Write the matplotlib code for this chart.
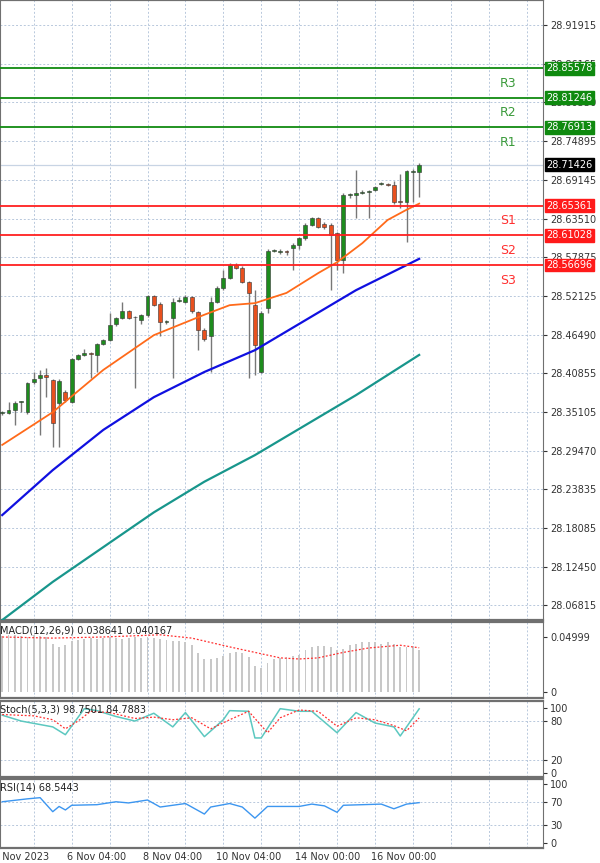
import numpy as np
import matplotlib
matplotlib.use("Agg")
import matplotlib.pyplot as plt
import matplotlib.transforms as mtransforms

# candles (price units)
opens = [28.350, 28.350, 28.354, 28.366, 28.351, 28.395, 28.401, 28.406, 28.398, 28.365,
         28.381, 28.366, 28.429, 28.435, 28.438, 28.435, 28.451, 28.457, 28.480, 28.489,
         28.499, 28.490, 28.486, 28.493, 28.521, 28.510, 28.484, 28.489, 28.514, 28.513,
         28.520, 28.498, 28.472, 28.463, 28.513, 28.533, 28.548, 28.567, 28.563, 28.542,
         28.508, 28.410, 28.504, 28.588, 28.586, 28.587, 28.592, 28.596, 28.606, 28.626,
         28.636, 28.627, 28.626, 28.614, 28.574, 28.670, 28.670, 28.673, 28.674, 28.677,
         28.686, 28.686, 28.684, 28.660, 28.659, 28.704, 28.704]
closes = [28.351, 28.354, 28.365, 28.366, 28.394, 28.400, 28.406, 28.403, 28.335, 28.397,
          28.369, 28.429, 28.435, 28.438, 28.437, 28.451, 28.457, 28.479, 28.489, 28.499,
          28.489, 28.490, 28.493, 28.521, 28.509, 28.484, 28.484, 28.513, 28.515, 28.520,
          28.499, 28.472, 28.458, 28.513, 28.533, 28.548, 28.567, 28.563, 28.542, 28.526,
          28.450, 28.497, 28.588, 28.589, 28.587, 28.586, 28.596, 28.606, 28.626, 28.636,
          28.623, 28.623, 28.611, 28.574, 28.670, 28.671, 28.672, 28.674, 28.674, 28.681,
          28.687, 28.685, 28.659, 28.659, 28.705, 28.705, 28.714]
highs = [28.353, 28.366, 28.367, 28.368, 28.396, 28.410, 28.413, 28.416, 28.400, 28.399,
         28.383, 28.431, 28.437, 28.444, 28.440, 28.453, 28.459, 28.497, 28.491, 28.513,
         28.501, 28.492, 28.495, 28.523, 28.523, 28.512, 28.486, 28.518, 28.520, 28.523,
         28.522, 28.500, 28.474, 28.520, 28.536, 28.560, 28.570, 28.570, 28.565, 28.544,
         28.530, 28.499, 28.590, 28.591, 28.590, 28.589, 28.599, 28.608, 28.628, 28.638,
         28.638, 28.630, 28.628, 28.616, 28.672, 28.673, 28.707, 28.677, 28.677, 28.683,
         28.689, 28.688, 28.690, 28.700, 28.707, 28.708, 28.716]
lows = [28.347, 28.348, 28.332, 28.351, 28.349, 28.393, 28.317, 28.373, 28.300, 28.300,
        28.366, 28.364, 28.427, 28.433, 28.401, 28.410, 28.449, 28.455, 28.478, 28.487,
        28.487, 28.387, 28.480, 28.491, 28.507, 28.463, 28.481, 28.401, 28.512, 28.511,
        28.497, 28.442, 28.456, 28.410, 28.511, 28.531, 28.546, 28.561, 28.540, 28.401,
        28.405, 28.408, 28.497, 28.586, 28.583, 28.582, 28.560, 28.590, 28.604, 28.624,
        28.621, 28.620, 28.530, 28.560, 28.555, 28.665, 28.636, 28.671, 28.636, 28.675,
        28.684, 28.683, 28.657, 28.650, 28.601, 28.660, 28.667]

# moving averages (sampled points)
ma_fast_idx = [0, 8, 16, 24, 32, 36, 40, 45, 50, 53, 57, 61, 64, 66]
ma_fast = [28.303, 28.351, 28.413, 28.464, 28.494, 28.508, 28.511, 28.526, 28.555,
           28.571, 28.599, 28.633, 28.648, 28.657]
ma_slow_idx = [0, 8, 16, 24, 32, 40, 48, 56, 66]
ma_mid = [28.200, 28.266, 28.325, 28.373, 28.410, 28.442, 28.486, 28.530, 28.576]
ma_long = [28.046, 28.102, 28.153, 28.204, 28.249, 28.288, 28.332, 28.376, 28.435]

resist = [28.85578, 28.81246, 28.76913]
support = [28.65361, 28.61028, 28.56696]
last_price = 28.71426
price_ticks = [28.91915, 28.86165, 28.80550, 28.74895, 28.69145, 28.63510, 28.57875,
               28.52125, 28.46490, 28.40855, 28.35105, 28.29470, 28.23835, 28.18085,
               28.12450, 28.06815]

macd_hist = [0.051, 0.052, 0.052, 0.051, 0.050, 0.052, 0.051, 0.050, 0.044, 0.041,
             0.043, 0.046, 0.047, 0.048, 0.049, 0.048, 0.049, 0.050, 0.049, 0.048,
             0.049, 0.050, 0.049, 0.050, 0.049, 0.048, 0.047, 0.046, 0.046, 0.045,
             0.043, 0.035, 0.030, 0.030, 0.031, 0.033, 0.035, 0.036, 0.035, 0.032,
             0.024, 0.022, 0.026, 0.030, 0.031, 0.032, 0.033, 0.034, 0.038, 0.041,
             0.042, 0.042, 0.041, 0.038, 0.039, 0.043, 0.044, 0.045, 0.045, 0.045,
             0.044, 0.045, 0.044, 0.041, 0.041, 0.041, 0.0386]
macd_sig_idx = [0, 8, 16, 25, 30, 36, 40, 44, 47, 50, 54, 58, 63, 66]
macd_sig = [0.050, 0.049, 0.050, 0.052, 0.049, 0.041, 0.036, 0.031, 0.030, 0.031,
            0.036, 0.040, 0.0425, 0.0402]

stoch_idx = [0, 3, 8, 10, 13, 15, 18, 21, 24, 27, 29, 32, 35, 36, 39, 40, 41, 44, 47,
             49, 53, 56, 59, 62, 63, 66]
stoch_main = [89, 80, 71, 59, 99, 96, 87, 80, 92, 71, 93, 56, 82, 96, 95, 54, 54, 99,
              95, 95, 62, 93, 77, 71, 57, 98.75]
stoch_sig_idx = [0, 5, 8, 10, 12, 14, 17, 21, 24, 27, 30, 33, 36, 39, 42, 44, 47, 50,
                 53, 56, 59, 62, 64, 66]
stoch_sig = [90, 88, 82, 68, 80, 95, 93, 84, 86, 82, 85, 68, 82, 95, 62, 85, 97, 95,
             72, 85, 82, 73, 65, 84.79]

rsi_idx = [0, 4, 6, 8, 9, 10, 11, 15, 18, 20, 23, 25, 29, 32, 33, 36, 38, 40, 42, 47,
           49, 51, 53, 54, 60, 62, 64, 66]
rsi = [70, 75, 77, 53, 62, 56, 64, 65, 70, 68, 73, 61, 67, 49, 61, 67, 61, 42, 62, 62,
       66, 63, 52, 64, 66, 58, 66, 68.5]

date_pos = [3, 15, 27, 39, 51.5, 63.5]
date_labels = ["3 Nov 2023", "6 Nov 04:00", "8 Nov 04:00", "10 Nov 04:00",
               "14 Nov 00:00", "16 Nov 00:00"]

GREEN = "#1e8c1e"
RED = "#e8501e"
GRID = dict(color="#b8c8dc", linestyle=(0, (2, 2)), linewidth=0.7)
XLIM = (-0.35, 85.6)
vgrid = np.arange(5, 86, 6)

fig = plt.figure(figsize=(6, 8.63), dpi=100)
ax = fig.add_axes([0, 0.2816, 0.905, 0.7184])
ax_m = fig.add_axes([0, 0.1912, 0.905, 0.088])
ax_s = fig.add_axes([0, 0.0997, 0.905, 0.088])
ax_r = fig.add_axes([0, 0.0174, 0.905, 0.080])

for a in (ax, ax_m, ax_s, ax_r):
    a.set_xlim(*XLIM)
    for s in a.spines.values():
        s.set_color("#707070")
    a.spines["top"].set_linewidth(1.6)
    a.spines["bottom"].set_linewidth(1.6)
    a.yaxis.tick_right()
    a.tick_params(axis="y", labelsize=7, length=3, pad=2, colors="#333333")
    a.tick_params(axis="x", length=0)
    a.set_xticks([])
    for v in vgrid:
        a.axvline(v, zorder=0, **GRID)

# main price panel
ax.set_ylim(28.0461, 28.9558)
ax.set_yticks(price_ticks)
ax.set_yticklabels([f"{t:.5f}" for t in price_ticks])
for t in price_ticks:
    ax.axhline(t, zorder=0, **GRID)

x = np.arange(len(opens))
for i in x:
    o, c, h, l = opens[i], closes[i], highs[i], lows[i]
    ax.vlines(i, l, h, color="#777777", linewidth=1.0, zorder=2)
    col = GREEN if c >= o else RED
    body = max(abs(c - o), 0.0012)
    ax.bar(i, body, bottom=min(o, c), width=0.62, color=col,
           edgecolor="#333333", linewidth=0.4, zorder=3)

ax.plot(ma_fast_idx, ma_fast, color="#ff6a1a", linewidth=1.3, zorder=4)
ax.plot(ma_slow_idx, ma_mid, color="#1010e0", linewidth=1.6, zorder=4)
ax.plot(ma_slow_idx, ma_long, color="#18968c", linewidth=1.6, zorder=4)

ax.axhline(last_price, color="#c8d4e4", linewidth=0.9, zorder=1)
trans = mtransforms.blended_transform_factory(ax.transAxes, ax.transData)
for k, lvl in enumerate(resist):
    ax.axhline(lvl, color="#108a10", linewidth=1.3, zorder=5)
    ax.text(0.935, lvl - 0.0125, f"R{3 - k}", transform=trans, color="#3a9a3a",
            fontsize=9, ha="center", va="top")
    ax.text(1.006, lvl, f"{lvl:.5f}", transform=trans, color="white", fontsize=7,
            va="center", ha="left", zorder=10, clip_on=False,
            bbox=dict(boxstyle="square,pad=0.15", fc="#0f8a0f", ec="#0f8a0f"))
for k, lvl in enumerate(support):
    ax.axhline(lvl, color="#ff2020", linewidth=1.3, zorder=5)
    ax.text(0.935, lvl - 0.0125, f"S{k + 1}", transform=trans, color="#ff3030",
            fontsize=9, ha="center", va="top")
    ax.text(1.006, lvl, f"{lvl:.5f}", transform=trans, color="white", fontsize=7,
            va="center", ha="left", zorder=10, clip_on=False,
            bbox=dict(boxstyle="square,pad=0.15", fc="#ff1a1a", ec="#ff1a1a"))
ax.text(1.006, last_price, f"{last_price:.5f}", transform=trans, color="white",
        fontsize=7, va="center", ha="left", zorder=10, clip_on=False,
        bbox=dict(boxstyle="square,pad=0.15", fc="black", ec="black"))

# MACD
ax_m.set_ylim(-0.0055, 0.0636)
ax_m.bar(x, macd_hist, width=0.3, color="#c8c8c8", zorder=2)
ax_m.plot(macd_sig_idx, macd_sig, color="#ff3030", linestyle=(0, (1.5, 1.5)),
          linewidth=0.9, zorder=3)
ax_m.set_yticks([0, 0.04999])
ax_m.set_yticklabels(["0", "0.04999"])
ax_m.text(0.0, 0.95, "MACD(12,26,9) 0.038641 0.040167", transform=ax_m.transAxes,
          fontsize=7, va="top", ha="left", color="#222222")

# Stochastic
ax_s.set_ylim(-6, 110.8)
for lv in (80, 20):
    ax_s.axhline(lv, zorder=0, **GRID)
ax_s.plot(stoch_idx, stoch_main, color="#5cc8c0", linewidth=1.1, zorder=3)
ax_s.plot(stoch_sig_idx, stoch_sig, color="#ff3030", linestyle=(0, (1.5, 1.5)),
          linewidth=0.9, zorder=3)
ax_s.set_yticks([0, 20, 80, 100])
ax_s.text(0.0, 0.95, "Stoch(5,3,3) 98.7501 84.7883", transform=ax_s.transAxes,
          fontsize=7, va="top", ha="left", color="#222222")

# RSI
ax_r.set_ylim(-9, 109)
for lv in (70, 30):
    ax_r.axhline(lv, zorder=0, **GRID)
ax_r.plot(rsi_idx, rsi, color="#3c96f0", linewidth=1.0, zorder=3)
ax_r.set_yticks([0, 30, 70, 100])
ax_r.text(0.0, 0.95, "RSI(14) 68.5443", transform=ax_r.transAxes,
          fontsize=7, va="top", ha="left", color="#222222")

ax_r.set_xticks(date_pos)
ax_r.set_xticklabels(date_labels, fontsize=7, color="#333333")
ax_r.tick_params(axis="x", pad=3)

fig.savefig("out.png", dpi=100)
